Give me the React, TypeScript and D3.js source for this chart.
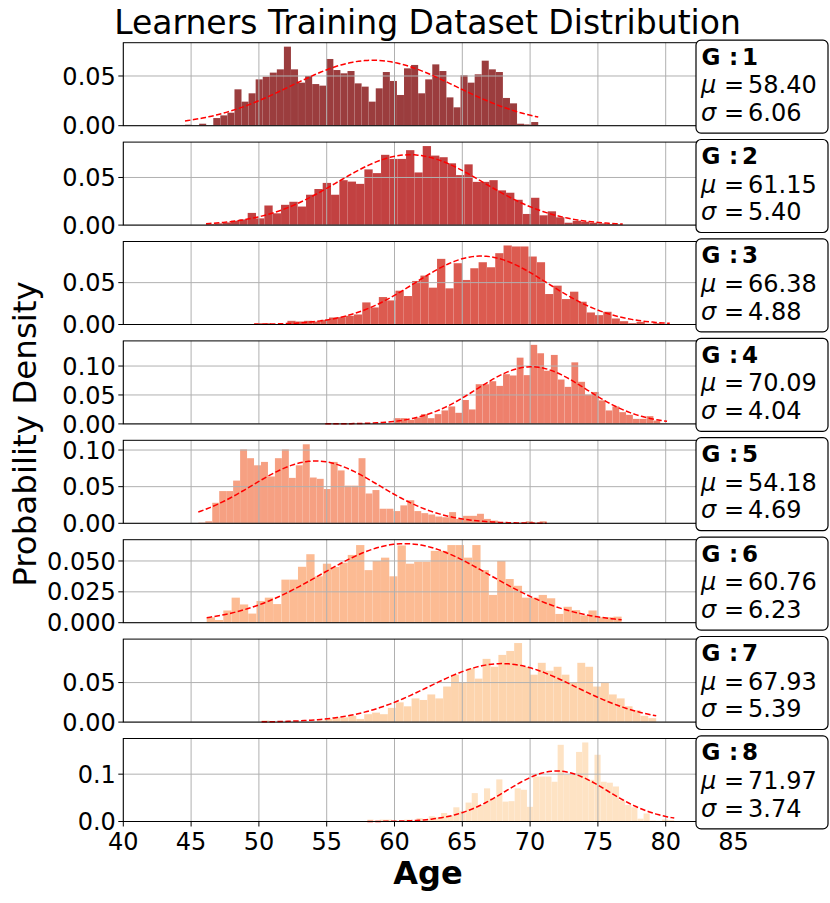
import * as d3 from "d3";

// group stats shown in the legends
const groupIds = ["1", "2", "3", "4", "5", "6", "7", "8"];
const means = [58.4, 61.15, 66.38, 70.09, 54.18, 60.76, 67.93, 71.97];
const sigmas = [6.06, 5.4, 4.88, 4.04, 4.69, 6.23, 5.39, 3.74];

// histogram range (min / max age) of each group, 50 bins each
const binLow = [44.55, 46.1, 49.65, 54.9, 45.53, 46.15, 50.2, 58.0];
const binHigh = [70.6, 76.83, 80.3, 80.1, 71.22, 76.75, 79.3, 80.63];

// bin densities
const g1Density = [0.001, 0, 0.002, 0, 0.0077, 0.0104, 0.0131, 0.0366, 0.0242, 0.0326, 0.0466, 0.0493, 0.0534, 0.0567, 0.0795, 0.0567, 0.0433, 0.05, 0.0419, 0.0403, 0.0671, 0.056, 0.0527, 0.055, 0.0426, 0.0393, 0.0242, 0.0376, 0.054, 0.045, 0.0309, 0.0577, 0.0611, 0.0326, 0.0466, 0.0617, 0.055, 0.0285, 0.0185, 0.0507, 0.0433, 0.0517, 0.0654, 0.0567, 0.054, 0.0279, 0.0225, 0.002, 0.0013, 0.0037];
const g2Density = [0.0011, 0.0018, 0.0028, 0.0046, 0.006, 0.0128, 0.0071, 0.0206, 0.0124, 0.0213, 0.0245, 0.0195, 0.0319, 0.0379, 0.0443, 0.0319, 0.0472, 0.0457, 0.0433, 0.0585, 0.0546, 0.0738, 0.0695, 0.0695, 0.0787, 0.0553, 0.083, 0.073, 0.0713, 0.0649, 0.0525, 0.0638, 0.0454, 0.0454, 0.0472, 0.0365, 0.034, 0.0266, 0.0117, 0.0287, 0.0103, 0.0145, 0.0082, 0.0025, 0.0046, 0.0035, 0.0025, 0.0018, 0.0011, 0.0007];
const g3Density = [0.0016, 0.0016, 0.0004, 0.0004, 0.0044, 0.0036, 0.0044, 0.0036, 0.0056, 0.0084, 0.0088, 0.0104, 0.012, 0.0264, 0.0204, 0.0328, 0.0288, 0.0404, 0.034, 0.052, 0.0584, 0.044, 0.0784, 0.0432, 0.0732, 0.0532, 0.0672, 0.0744, 0.0684, 0.0852, 0.0944, 0.0932, 0.0932, 0.0812, 0.0744, 0.0364, 0.0464, 0.0304, 0.0392, 0.0272, 0.0144, 0.0112, 0.0152, 0.0072, 0.004, 0.0016, 0.0032, 0.0008, 0.0016, 0.0008];
const g4Density = [0.0012, 0, 0, 0, 0, 0, 0, 0, 0, 0, 0.0099, 0.0099, 0.007, 0.011, 0.0169, 0.0099, 0.0169, 0.0233, 0.0302, 0.0192, 0.0413, 0.025, 0.0686, 0.0686, 0.0738, 0.0657, 0.086, 0.0837, 0.1145, 0.0843, 0.1366, 0.1221, 0.0919, 0.1192, 0.0767, 0.064, 0.1064, 0.0727, 0.0506, 0.0552, 0.0407, 0.0233, 0.0302, 0.0203, 0.0157, 0.0087, 0.0087, 0.0134, 0.0058, 0.0012];
const g5Density = [0.0009, 0.0028, 0.028, 0.044, 0.044, 0.0583, 0.1009, 0.0889, 0.0792, 0.0838, 0.0639, 0.0889, 0.1009, 0.062, 0.0792, 0.1079, 0.0625, 0.0607, 0.0468, 0.0838, 0.0722, 0.0514, 0.0514, 0.0889, 0.0407, 0.0454, 0.0199, 0.0199, 0.0167, 0.0245, 0.0315, 0.0167, 0.0139, 0.012, 0.0093, 0.0083, 0.0153, 0.006, 0.0102, 0.0102, 0.013, 0.006, 0.0037, 0.0009, 0.0005, 0.0005, 0.0009, 0.0028, 0.0009, 0.0028];
const g6Density = [0.0044, 0.0022, 0.0099, 0.0203, 0.0148, 0.0074, 0.0176, 0.0203, 0.0151, 0.0349, 0.0349, 0.0453, 0.0555, 0.0376, 0.0478, 0.0451, 0.0486, 0.0549, 0.0629, 0.0426, 0.05, 0.0527, 0.0376, 0.0626, 0.0478, 0.0494, 0.0494, 0.0582, 0.0582, 0.0629, 0.0629, 0.0527, 0.0629, 0.0426, 0.0225, 0.05, 0.0354, 0.0299, 0.0203, 0.0203, 0.0225, 0.0198, 0.0071, 0.0129, 0.0102, 0.006, 0.0099, 0.0044, 0.0044, 0.0049];
const g7Density = [0.002, 0, 0, 0, 0, 0, 0, 0.002, 0.004, 0.006, 0.006, 0.008, 0.004, 0.01, 0.012, 0.01, 0.018, 0.025, 0.02, 0.03, 0.028, 0.035, 0.03, 0.045, 0.06, 0.05, 0.068, 0.055, 0.08, 0.07, 0.085, 0.09, 0.1, 0.07, 0.06, 0.075, 0.065, 0.07, 0.06, 0.05, 0.075, 0.07, 0.045, 0.05, 0.035, 0.03, 0.02, 0.015, 0.008, 0.005];
const g8Density = [0.004, 0.002, 0.004, 0.004, 0.002, 0, 0.004, 0.002, 0.007, 0.004, 0.011, 0.009, 0.018, 0.013, 0.03, 0.022, 0.04, 0.06, 0.035, 0.07, 0.05, 0.089, 0.042, 0.043, 0.07, 0.067, 0.031, 0.095, 0.095, 0.095, 0.084, 0.162, 0.099, 0.099, 0.147, 0.167, 0.088, 0.141, 0.084, 0.082, 0.074, 0.045, 0.035, 0.03, 0.006, 0.017, 0.002, 0.0014, 0.0043, 0.0028];

const densities = [g1Density, g2Density, g3Density, g4Density, g5Density, g6Density, g7Density, g8Density];

const barColors = ["#9b3d3e", "#c24141", "#dc5b50", "#ee806c", "#f6a082", "#fcbb93", "#fdd4ad", "#fee3c4"];

const xTicks = [40, 45, 50, 55, 60, 65, 70, 75, 80, 85];
const yTicks = [
  [0, 0.05],
  [0, 0.05],
  [0, 0.05],
  [0, 0.05, 0.1],
  [0, 0.05, 0.1],
  [0, 0.025, 0.05],
  [0, 0.05],
  [0, 0.1],
];
const yTickDigits = [2, 2, 2, 2, 2, 3, 2, 1];

const W = 830;
const H = 903;
const left = 123.3;
const right = 795;
const top0 = 42.7;
const pitch = 99.4;
const panelH = 83;
const font = "DejaVu Sans, Liberation Sans, sans-serif";

const x = d3.scaleLinear().domain([40, 40 + (right - left) / 13.56]).range([left, right]);

function pdf(v: number, mu: number, s: number) {
  return Math.exp(-((v - mu) ** 2) / (2 * s * s)) / (s * Math.sqrt(2 * Math.PI));
}

function Panel({ k }: { k: number }) {
  const y0 = top0 + pitch * k;
  const y1 = y0 + panelH;
  const bins = densities[k];
  const lo = binLow[k];
  const hi = binHigh[k];
  const bw = (hi - lo) / bins.length;
  const mu = means[k];
  const s = sigmas[k];
  const yMax = Math.max(d3.max(bins)!, pdf(mu, mu, s)) * 1.05;
  const y = d3.scaleLinear().domain([0, yMax]).range([y1, y0]);

  const curveXs = d3.range(0, 121).map((i) => lo + ((hi - lo) * i) / 120);
  const line = d3
    .line<number>()
    .x((v) => x(v))
    .y((v) => y(pdf(v, mu, s)));

  const isLast = k === densities.length - 1;
  const lt = y0 - 2.6;

  return (
    <g>
      {/* bars */}
      {bins.map((d, i) =>
        d > 0 ? (
          <rect
            key={i}
            x={x(lo + i * bw)}
            y={y(d)}
            width={x(lo + (i + 1) * bw) - x(lo + i * bw)}
            height={y1 - y(d)}
            fill={barColors[k]}
            stroke="#ffffff"
            strokeOpacity={0.1}
            strokeWidth={0.4}
          />
        ) : null
      )}
      {/* grid */}
      {xTicks.map((t) => (
        <line key={"gx" + t} x1={x(t)} x2={x(t)} y1={y0} y2={y1} stroke="#b0b0b0" strokeWidth={1} />
      ))}
      {yTicks[k].map((t) => (
        <line key={"gy" + t} x1={left} x2={right} y1={y(t)} y2={y(t)} stroke="#b0b0b0" strokeWidth={1} />
      ))}
      {/* normal fit */}
      <path d={line(curveXs)!} fill="none" stroke="#ff0000" strokeWidth={1.5} strokeDasharray="5.5,2.4" />
      {/* spines */}
      <rect x={left} y={y0} width={right - left} height={panelH} fill="none" stroke="#000" strokeWidth={1} />
      {/* y ticks */}
      {yTicks[k].map((t) => (
        <g key={"ty" + t}>
          <line x1={left - 5} x2={left} y1={y(t)} y2={y(t)} stroke="#000" strokeWidth={1} />
          <text x={left - 7.5} y={y(t)} dy="0.36em" textAnchor="end" fontSize={24} fontFamily={font}>
            {t.toFixed(yTickDigits[k])}
          </text>
        </g>
      ))}
      {/* x ticks on the bottom panel */}
      {isLast &&
        xTicks.map((t) => (
          <g key={"tx" + t}>
            <line x1={x(t)} x2={x(t)} y1={y1} y2={y1 + 5} stroke="#000" strokeWidth={1} />
            <text x={x(t)} y={850} textAnchor="middle" fontSize={24} fontFamily={font}>
              {t}
            </text>
          </g>
        ))}
      {/* legend */}
      <rect x={696} y={lt} width={132} height={93} rx={5} fill="#fff" stroke="#000" strokeWidth={1.2} />
      <text y={lt + 24.5} fontSize={23} fontWeight="bold" fontFamily={font}>
        <tspan x={701.5}>G</tspan>
        <tspan x={729}>:</tspan>
        <tspan x={742}>{groupIds[k]}</tspan>
      </text>
      <text y={lt + 53} fontSize={24} fontFamily={font}>
        <tspan x={701} fontStyle="italic">μ</tspan>
        <tspan x={724}>=</tspan>
        <tspan x={748}>{mu.toFixed(2)}</tspan>
      </text>
      <text y={lt + 80.7} fontSize={24} fontFamily={font}>
        <tspan x={701} fontStyle="italic">σ</tspan>
        <tspan x={724}>=</tspan>
        <tspan x={748}>{s.toFixed(2)}</tspan>
      </text>
    </g>
  );
}

export default function App() {
  return (
    <svg
      width={W}
      height={H}
      viewBox={`0 0 ${W} ${H}`}
      style={{ position: "absolute", left: 0, top: 0, background: "#fff" }}
    >
      <rect x={0} y={0} width={W} height={H} fill="#fff" />
      {densities.map((_, k) => (
        <Panel key={k} k={k} />
      ))}
      <text x={427.5} y={34} textAnchor="middle" fontSize={33} fontFamily={font}>
        Learners Training Dataset Distribution
      </text>
      <text
        transform="translate(36,434) rotate(-90)"
        textAnchor="middle"
        fontSize={32.5}
        fontFamily={font}
      >
        Probability Density
      </text>
      <text x={428} y={884} textAnchor="middle" fontSize={32} fontWeight="bold" fontFamily={font}>
        Age
      </text>
    </svg>
  );
}
